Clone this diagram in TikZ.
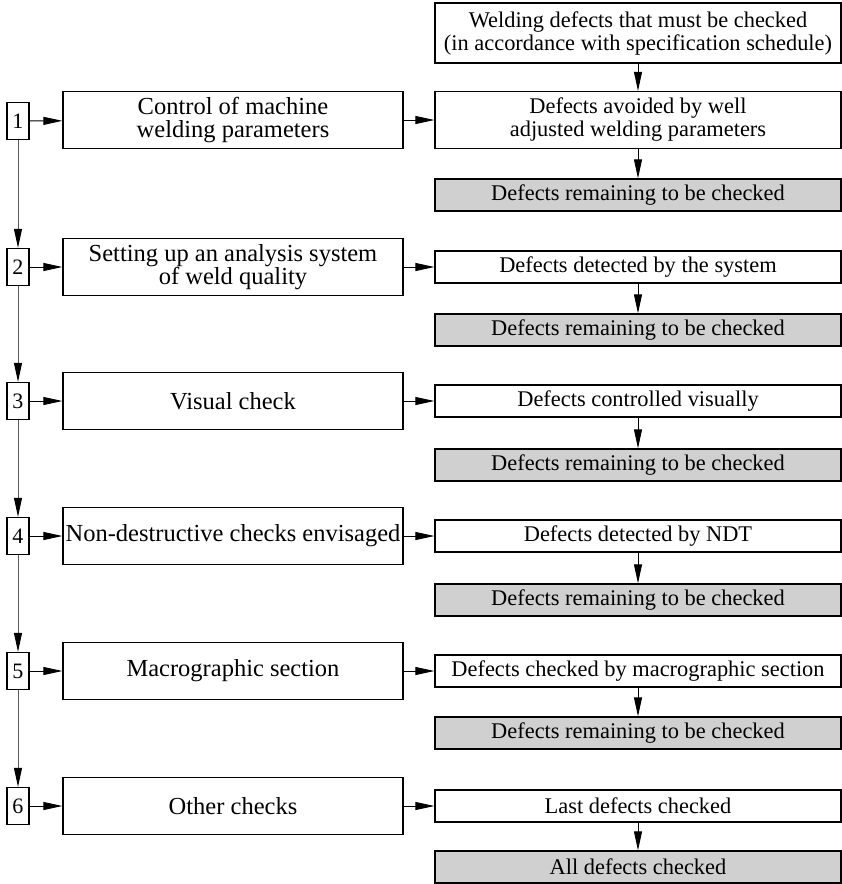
\documentclass[tikz,border=0pt]{standalone}
\usepackage{fontspec}
\setmainfont{Liberation Serif}
\usetikzlibrary{arrows.meta,positioning}
\definecolor{remain}{HTML}{D0D0D0}

\tikzset{
  numbox/.style={draw, line width=1.3pt, minimum width=22pt, minimum height=37pt,
    inner sep=0pt, font=\fontsize{22}{23}\selectfont},
  stepbox/.style={draw, line width=1.3pt, minimum width=340pt, minimum height=57pt,
    inner xsep=1pt, align=center, font=\fontsize{24.5}{23}\selectfont},
  defbox/.style={draw, line width=1.3pt, minimum width=406pt, minimum height=32pt,
    inner xsep=2pt, inner ysep=1pt, align=center, font=\fontsize{22.4}{23}\selectfont},
  remainbox/.style={defbox, fill=remain},
  arr/.style={-{Triangle[length=19pt,width=8pt]}, line width=0.9pt},
}

\begin{document}
\begin{tikzpicture}[x=1pt, y=-1pt]
  \useasboundingbox (0,0) rectangle (842,884);

  % list of defects to check
  \node[defbox, minimum height=60pt] (spec) at (638,33)
    {Welding defects that must be checked\\(in accordance with specification schedule)};

  % 1
  \node[numbox] (n1) at (18,121) {1};
  \node[stepbox] (s1) at (233,120) {Control of machine\\welding parameters};
  \node[defbox, minimum height=57pt] (d1) at (638,120)
    {Defects avoided by well\\adjusted welding parameters};
  \node[remainbox] (g1) at (638,195) {Defects remaining to be checked};

  % 2
  \node[numbox] (n2) at (18,267) {2};
  \node[stepbox] (s2) at (233,267) {Setting up an analysis system\\of weld quality};
  \node[defbox] (d2) at (638,267) {Defects detected by the system};
  \node[remainbox] (g2) at (638,330) {Defects remaining to be checked};

  % 3
  \node[numbox] (n3) at (18,401) {3};
  \node[stepbox] (s3) at (233,401) {Visual check};
  \node[defbox] (d3) at (638,401) {Defects controlled visually};
  \node[remainbox] (g3) at (638,465) {Defects remaining to be checked};

  % 4
  \node[numbox] (n4) at (18,536) {4};
  \node[stepbox] (s4) at (233,536) {Non-destructive checks envisaged};
  \node[defbox] (d4) at (638,536) {Defects detected by NDT};
  \node[remainbox] (g4) at (638,600) {Defects remaining to be checked};

  % 5
  \node[numbox] (n5) at (18,671) {5};
  \node[stepbox] (s5) at (233,671) {Macrographic section};
  \node[defbox] (d5) at (638,671) {Defects checked by macrographic section};
  \node[remainbox] (g5) at (638,733) {Defects remaining to be checked};

  % 6
  \node[numbox] (n6) at (18,806) {6};
  \node[stepbox] (s6) at (233,806) {Other checks};
  \node[defbox] (d6) at (638,806) {Last defects checked};
  \node[remainbox] (g6) at (638,867) {All defects checked};

  % arrows
  \draw[arr] (spec) -- (d1);
  \foreach \i in {1,...,6} {
    \draw[arr] (n\i) -- (s\i);
    \draw[arr] (s\i) -- (d\i);
    \draw[arr] (d\i) -- (g\i);
  }
  \foreach \i/\j in {1/2,2/3,3/4,4/5,5/6}
    \draw[arr, draw=black!65, -{Triangle[length=19pt,width=8pt,black]}] (n\i) -- (n\j);
\end{tikzpicture}
\end{document}
